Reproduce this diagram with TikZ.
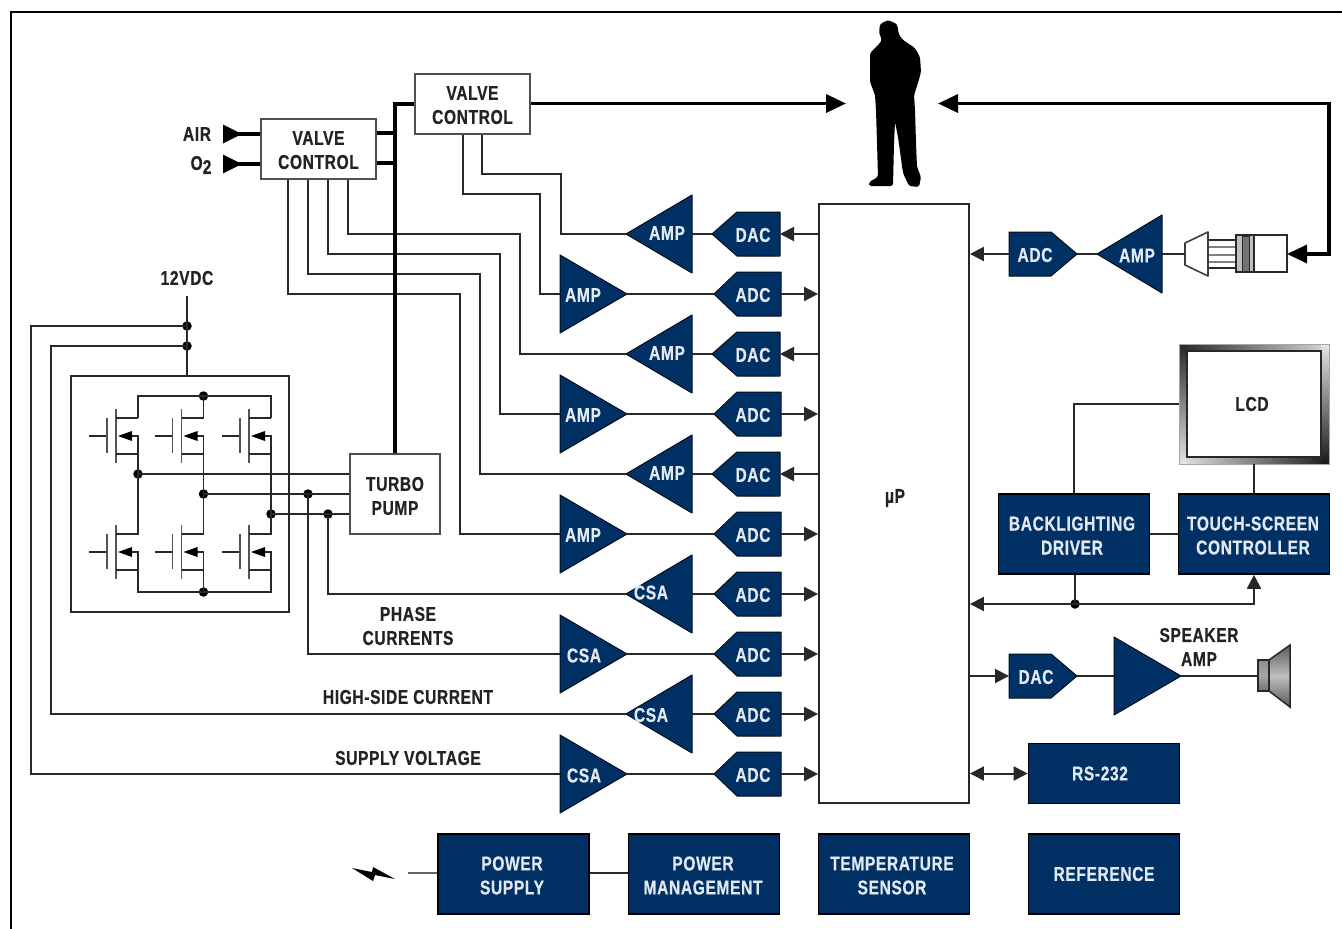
\documentclass[tikz,border=0pt]{standalone}
\usepackage{fontspec}
\setmainfont[FakeStretch=0.78,LetterSpace=3,BoldFeatures={FakeBold=0.5}]{Liberation Sans}
\usetikzlibrary{arrows.meta}
\definecolor{navy}{RGB}{0,48,100}
\definecolor{ink}{RGB}{35,35,35}
\definecolor{paleblue}{RGB}{225,232,240}
\definecolor{wire}{RGB}{40,40,40}
\tikzset{
  x=1pt,y=-1pt,
  wireline/.style={draw=wire,line width=2pt},
  heavy/.style={draw=black,line width=3.4pt},
  mosline/.style={draw=wire,line width=1.7pt},
  tipS/.style={-{Triangle[length=14pt,width=14pt]}},
  tipB/.style={-{Triangle[length=20pt,width=18pt]}},
  tipSS/.style={{Triangle[length=14pt,width=14pt]}-{Triangle[length=14pt,width=14pt]}},
  tipBB/.style={{Triangle[length=20pt,width=18pt]}-{Triangle[length=20pt,width=18pt]}},
  lab/.style={font=\fontsize{20}{24}\selectfont\bfseries,text=ink,align=center,inner sep=0pt},
  wlab/.style={font=\fontsize{20}{24}\selectfont\bfseries,text=paleblue,align=center,inner sep=0pt},
  lower/.style={execute at begin node={\rule{0pt}{#1pt}}},
  block/.style={draw=black,line width=1.6pt,fill=navy,wlab,minimum height=80pt,minimum width=151pt,inner sep=0pt},
  ctrl/.style={draw=ink!80,line width=2pt,fill=white,lab,minimum width=115pt,minimum height=60pt},
  dot/.style={circle,fill=black,inner sep=0pt,minimum size=9.5pt},
  navyshape/.style={fill=navy,draw=black!70!navy,line width=1pt,line join=round},
}
% triangle: name, base x, tip x, centre y, half height, label, label position
\newcommand\tri[7]{%
  \path[navyshape] (#2,#4-#5) -- (#3,#4) -- (#2,#4+#5) -- cycle;
  \coordinate (#1-b) at (#2,#4);
  \coordinate (#1-t) at (#3,#4);
  \node[wlab] (#1) at (#7) {#6};
}
% pentagon: name, flat x, shoulder x, tip x, centre y, label, label x
\newcommand\pent[7]{%
  \path[navyshape] (#2,#5-22) -- (#3,#5-22) -- (#4,#5) -- (#3,#5+22) -- (#2,#5+22) -- cycle;
  \coordinate (#1-f) at (#2,#5);
  \coordinate (#1-t) at (#4,#5);
  \node[wlab] (#1) at (#7,#5+1) {#6};
}
\newcommand\mosfet[2]{% x offset, y offset
  \begin{scope}[shift={(#1,#2)}]
    \draw[mosline] (89,436) -- (107,436);
    \draw[mosline,draw=wire!80] (107,418) -- (107,453);
    \draw[mosline,draw=wire!80] (116,409) -- (116,463);
    \draw[mosline] (116,418) -- (138,418);
    \draw[mosline] (116,454) -- (138,454);
    \draw[mosline] (128,436) -- (138,436) -- (138,454);
    \fill[black] (118,436) -- (132,431) -- (132,441) -- cycle;
  \end{scope}
}
\begin{document}
\begin{tikzpicture}
\useasboundingbox (0,0) rectangle (1342,929);
\fill[white] (0,0) rectangle (1342,929);
% frame
\draw[black,line width=2pt] (11,929) -- (11,12) -- (1342,12);

% person
\fill[black,rounded corners=2.5pt]
  (888,20) -- (897,24) -- (899,35) -- (903,40) -- (915,48) -- (920,57) -- (921,72) -- (918,83)
  -- (914,95) -- (915,110) -- (916,143) -- (917,167) -- (921,177) -- (919,187) -- (909,186)
  -- (903,173) -- (898,137) -- (895,122) -- (894,143) -- (893,186) -- (869,186) -- (869,182)
  -- (878,177) -- (877,143) -- (876,110) -- (875,95) -- (870,82) -- (870,53) -- (880,43)
  -- (882,40) -- (879,33) -- (880,24) -- cycle;
\coordinate (personL) at (846,103.5);
\coordinate (personR) at (938,103.5);

% boxes
\node[ctrl,lower=40] (vcB) at (472.5,104) {VALVE\\CONTROL};
\node[ctrl,lower=40] (vcA) at (318.5,149) {VALVE\\CONTROL};
\node[ctrl,minimum width=90pt,minimum height=80pt,lower=42] (pump) at (395,494) {TURBO\\PUMP};
\node[draw=wire,line width=1.9pt,fill=white,minimum width=150pt,minimum height=599pt] (up) at (894,503.5) {};
\node[lab] (uplabel) at (895,498) {µP};

% amps and converters
\tri{a1}{692}{626}{234}{39}{AMP}{667,233}
\tri{a2}{560}{627}{294}{39}{AMP}{583,295}
\tri{a3}{692}{626}{354}{39}{AMP}{667,353}
\tri{a4}{560}{627}{414}{39}{AMP}{583,415}
\tri{a5}{692}{626}{474}{39}{AMP}{667,473}
\tri{a6}{560}{627}{534}{39}{AMP}{583,535}
\tri{c1}{692}{626}{594}{39}{CSA}{651,592.5}
\tri{c2}{560}{627}{654}{39}{CSA}{584,655.5}
\tri{c3}{692}{626}{714}{39}{CSA}{651,715}
\tri{c4}{560}{627}{774}{39}{CSA}{584,775.5}
\pent{d1}{780}{737}{712}{234}{DAC}{753}
\pent{d2}{781}{737}{714}{294}{ADC}{753}
\pent{d3}{780}{737}{712}{354}{DAC}{753}
\pent{d4}{781}{737}{714}{414}{ADC}{753}
\pent{d5}{780}{737}{712}{474}{DAC}{753}
\pent{d6}{781}{737}{714}{534}{ADC}{753}
\pent{d7}{781}{737}{714}{594}{ADC}{753}
\pent{d8}{781}{737}{714}{654}{ADC}{753}
\pent{d9}{781}{737}{714}{714}{ADC}{753}
\pent{d10}{781}{737}{714}{774}{ADC}{753}
\pent{rA}{1009}{1051}{1077}{254}{ADC}{1035}
\tri{rAmp}{1162}{1097}{254}{39}{AMP}{1137,255.5}
\pent{rD}{1009}{1051}{1077}{676}{DAC}{1036}
\tri{spk}{1114}{1181}{676}{39}{}{1140,676}

% blocks
\node[block,lower=41] (back) at (1074,534) {BACKLIGHTING\kern4pt\\DRIVER\kern4pt};
\node[block,lower=41] (touch) at (1254,534) {TOUCH-SCREEN\kern2pt\\CONTROLLER\kern2pt};
\node[block,minimum height=60pt] (rs) at (1104,773.5) {RS-232\kern8pt};
\node[block,lower=41] (ps) at (513.5,874) {POWER\kern3pt\\SUPPLY\kern3pt};
\node[block,lower=41] (pm) at (704,874) {POWER\kern2pt\\MANAGEMENT\kern2pt};
\node[block,lower=41] (ts) at (894,874) {TEMPERATURE\kern4pt\\SENSOR\kern4pt};
\node[block] (ref) at (1104,874) {REFERENCE};

% LCD with shaded bezel
\shade[left color=black!85,right color=black!15] (1179,344) rectangle (1329,351.5);
\shade[left color=black!10,right color=black!90] (1179,457.5) rectangle (1329,464);
\shade[top color=black!85,bottom color=black!10] (1179,344) rectangle (1187,464);
\shade[top color=black!10,bottom color=black!90] (1321,344) rectangle (1329,464);
\draw[black!35,line width=1pt] (1179,344) rectangle (1329,464);
\node[draw=wire,line width=1.2pt,fill=white,lab,minimum width=134pt,minimum height=106pt] (lcd) at (1254,404) {LCD\kern4pt};
\coordinate (lcdW) at (1179,404);
\coordinate (lcdS) at (1254,464);

% speaker
\shade[top color=black!45,bottom color=black!55,middle color=black!35,draw=wire,line width=1.5pt] (1258,660) rectangle (1269,691);
\shade[top color=black!65,bottom color=black!65,middle color=black!25,draw=wire,line width=1.5pt] (1269,660) -- (1290,645) -- (1290,707) -- (1269,691) -- cycle;
\coordinate (spkIn) at (1258,676);

% sensor
\draw[draw=wire,fill=white,line width=1.6pt] (1208,240) rectangle (1236,268);
\draw[black!50,line width=1.4pt] (1208,247) -- (1236,247) (1208,255) -- (1236,255) (1208,262) -- (1236,262);
\draw[wire!90,fill=white,line width=1.6pt,line join=round] (1185,243) -- (1208,232) -- (1208,276) -- (1185,265) -- cycle;
\draw[wire,fill=black!25,line width=1.6pt] (1236,235) rectangle (1254,272);
\draw[wire,fill=black!55,line width=0.8pt] (1242,236) rectangle (1249,271);
\draw[wire,fill=white,line width=1.6pt] (1254,235) rectangle (1287,272);
\coordinate (sensL) at (1185,254);
\coordinate (sensR) at (1287,254);

% valve wiring
\draw[wireline] (482,0 |- vcB.south) |- (560.5,174) |- (a1-t);
\draw[wireline] (463,0 |- vcB.south) |- (540,194) |- (a2-b);
\draw[wireline] (348,0 |- vcA.south) |- (520,234) |- (a3-t);
\draw[wireline] (328,0 |- vcA.south) |- (500,254) |- (a4-b);
\draw[wireline] (308,0 |- vcA.south) |- (480,274) |- (a5-t);
\draw[wireline] (288,0 |- vcA.south) |- (460,294) |- (a6-b);

% heavy valve lines
\draw[heavy] (vcB.west) -| (pump.north);
\draw[heavy] (vcA.east |- 0,133) -- (0,133 -| pump.north);
\draw[heavy] (vcA.east |- 0,163) -- (0,163 -| pump.north);
\coordinate (airIn) at (223,134);
\coordinate (oIn) at (223,164);
\draw[heavy,{Triangle[reversed,length=19pt,width=18pt]}-] (airIn) -- (airIn -| vcA.west);
\draw[heavy,{Triangle[reversed,length=19pt,width=18pt]}-] (oIn) -- (oIn -| vcA.west);
\node[lab] (air) at (197,134) {AIR};
\node[lab] (o2) at (201,165) {O\raisebox{-4pt}{2}};
\draw[heavy,tipB] (vcB.east |- personL) -- (personL);
\draw[heavy,tipBB] (personR) -- (1329,103.5) -- (1329,254) -- (sensR);

% row connections
\foreach \n/\m in {a1/d1,a3/d3,a5/d5}{\draw[wireline] (\n-b) -- (\m-t);}
\foreach \n/\m in {a2/d2,a4/d4,a6/d6,c2/d8,c4/d10}{\draw[wireline] (\n-t) -- (\m-t);}
\foreach \n/\m in {c1/d7,c3/d9}{\draw[wireline] (\n-b) -- (\m-t);}
\foreach \m in {d2,d4,d6,d7,d8,d9,d10}{\draw[wireline,tipS] (\m-f) -- (\m-f -| up.west);}
\foreach \m in {d1,d3,d5}{\draw[wireline,tipS] (\m-f -| up.west) -- (\m-f);}

% right side connections
\draw[wireline,tipS] (rA-f) -- (rA-f -| up.east);
\draw[wireline] (rA-t) -- (rAmp-t);
\draw[wireline] (rAmp-b) -- (sensL);
\draw[wireline] (lcdW) -| (back.north);
\draw[wireline] (lcdS) -- (touch.north);
\draw[wireline] (back.east) -- (touch.west);
\node[dot] (busdot) at (1075,604) {};
\draw[wireline] (back.south -| busdot) -- (busdot.center);
\draw[wireline,tipSS] (up.east |- busdot) -- (busdot.center) -| (touch.south);
\draw[wireline,tipS] (rD-f -| up.east) -- (rD-f);
\draw[wireline] (rD-t) -- (spk-b);
\draw[wireline] (spk-t) -- (spkIn);
\draw[wireline,tipSS] (up.east |- rs.west) -- (rs.west);
\node[lab] (spklabel) at (1199,647) {SPEAKER\\AMP};

% power
\coordinate (bolt) at (408,873);
\draw[draw=black!60,line width=2pt] (bolt) -- (ps.west |- bolt);
\draw[wireline] (ps.east |- 0,873) -- (pm.west |- 0,873);
\fill[black] (352,868) -- (372,872) -- (373,867) -- (395,879) -- (375,875) -- (373,881) -- cycle;

% inverter box and switches
\node[draw=wire,line width=2pt,minimum width=218pt,minimum height=236pt] (inv) at (180,494) {};
\node[lab] (v12) at (187,278) {12VDC};
\coordinate (v12top) at (187,296);
\node[dot] (j1) at (187,326) {};
\node[dot] (j2) at (187,346) {};
\draw[wireline] (v12top) -- (v12top |- inv.north);
\draw[wireline] (j1.center) -- (31,326) |- (c4-b);
\draw[wireline] (j2.center) -- (51,346) |- (c3-t);

\foreach \ox in {0,65.5,133}{
  \mosfet{\ox}{0}
  \mosfet{\ox}{116}
}
\node[dot] (top) at (203.5,396) {};
\node[dot] (bot) at (203.5,592) {};
\node[dot] (pa) at (138,474) {};
\node[dot] (pb) at (203.5,494) {};
\node[dot] (pc) at (271,514) {};
\node[dot] (sb) at (308,494) {};
\node[dot] (sc) at (328,514) {};
\draw[mosline] (138,418) |- (271,396) -- (271,418);
\draw[mosline] (top.center) -- (203.5,418);
\draw[mosline] (138,454) -- (138,534) -- (116,534);
\draw[mosline] (203.5,454) -- (203.5,534) -- (181.5,534);
\draw[mosline] (271,454) -- (271,534) -- (249,534);
\draw[mosline] (138,570) |- (271,592) -- (271,570);
\draw[mosline] (bot.center) -- (203.5,570);
\draw[wireline] (pa.center) -- (pa -| pump.west);
\draw[wireline] (pb.center) -- (pb -| pump.west);
\draw[wireline] (pc.center) -- (pc -| pump.west);
\draw[wireline] (sb.center) |- (c2-b);
\draw[wireline] (sc.center) |- (c1-t);

\node[lab] (phase) at (408,626) {PHASE\\CURRENTS};
\node[lab] (hs) at (408,697) {HIGH-SIDE CURRENT};
\node[lab] (sv) at (408,758) {SUPPLY VOLTAGE};
\end{tikzpicture}
\end{document}
